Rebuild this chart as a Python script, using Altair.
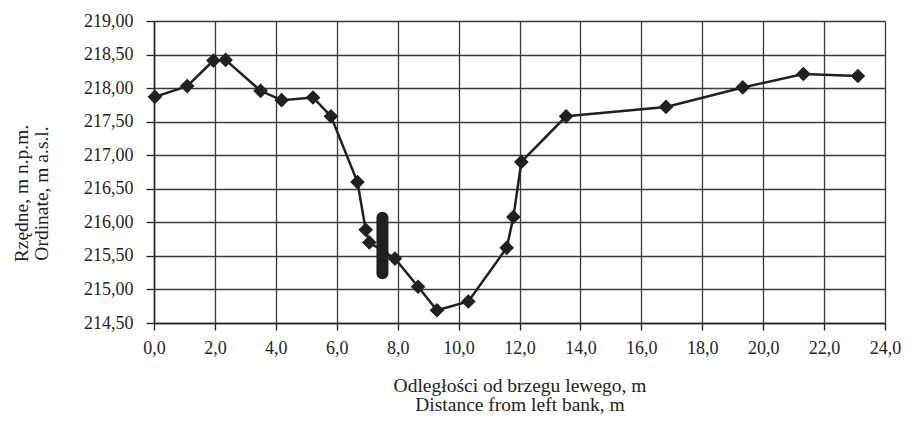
import altair as alt
import pandas as pd

# Cross-section profile (distance from left bank, m ; ordinate, m a.s.l.)
distance = [0.03, 1.09, 1.95, 2.35, 3.50, 4.19, 5.22, 5.81, 6.68, 6.95, 7.07,
            7.91, 8.67, 9.29, 10.32, 11.58, 11.80, 12.06, 13.53, 16.81, 19.33,
            21.32, 23.11]
ordinate = [217.87, 218.03, 218.41, 218.42, 217.96, 217.82, 217.86, 217.58,
            216.60, 215.89, 215.70, 215.46, 215.04, 214.69, 214.82, 215.62,
            216.08, 216.90, 217.58, 217.72, 218.01, 218.21, 218.18]

# Thick vertical bar (gauge) position
bar_x = [7.5]
bar_top = [216.07]
bar_bottom = [215.24]

x_ticks = [0, 2, 4, 6, 8, 10, 12, 14, 16, 18, 20, 22, 24]
y_ticks = [214.5, 215.0, 215.5, 216.0, 216.5, 217.0, 217.5, 218.0, 218.5, 219.0]

df = pd.DataFrame({"x": distance, "y": ordinate})
bar_df = pd.DataFrame({"x": bar_x, "y": bar_top, "y2": bar_bottom})

FONT = "Liberation Serif"
INK = "#231f20"
GRID = "#3a3a3a"

xscale = alt.Scale(domain=[0, 24], nice=False, zero=False)
yscale = alt.Scale(domain=[214.5, 219.0], nice=False, zero=False)

xaxis = alt.Axis(
    values=x_ticks, tickCount=30,
    labelExpr="replace(format(datum.value, '.1f'), '.', ',')",
    title=["Odległości od brzegu lewego, m", "Distance from left bank, m"],
    grid=True, gridColor=GRID, gridWidth=1.3, gridOpacity=1,
    domainColor=INK, domainWidth=1.5,
    tickColor=INK, tickSize=7, tickWidth=1.3,
    labelFont=FONT, labelFontSize=18, labelColor=INK, labelPadding=9,
    labelOverlap=False, labelFlush=False,
    titleFont=FONT, titleFontSize=19.5, titleFontWeight="normal", titleColor=INK,
    titlePadding=19, titleLineHeight=19,
)
yaxis = alt.Axis(
    values=y_ticks, tickCount=30,
    labelExpr="replace(format(datum.value, '.2f'), '.', ',')",
    title=["Rzędne, m n.p.m.", "Ordinate, m a.s.l."],
    grid=True, gridColor=GRID, gridWidth=1.3, gridOpacity=1,
    domainColor=INK, domainWidth=1.5,
    tickColor=INK, tickSize=8, tickWidth=1.3,
    labelFont=FONT, labelFontSize=18, labelColor=INK, labelPadding=13,
    labelOverlap=False, labelFlush=False,
    titleFont=FONT, titleFontSize=19.5, titleFontWeight="normal", titleColor=INK,
    titleLineHeight=20, titleX=-123, titleY=172,
)

base = alt.Chart(df)

line = base.mark_line(color=INK, strokeWidth=2.5).encode(
    x=alt.X("x:Q", scale=xscale, axis=xaxis),
    y=alt.Y("y:Q", scale=yscale, axis=yaxis),
)
points = base.mark_point(shape="diamond", filled=True, size=215, color=INK, opacity=1).encode(
    x=alt.X("x:Q", scale=xscale),
    y=alt.Y("y:Q", scale=yscale),
)
bar = alt.Chart(bar_df).mark_rule(color=INK, strokeWidth=12, strokeCap="round").encode(
    x=alt.X("x:Q", scale=xscale),
    y=alt.Y("y:Q", scale=yscale),
    y2="y2:Q",
)

chart = alt.layer(line, bar, points).properties(
    width=731, height=302,
    autosize=alt.AutoSizeParams(type="none"),
    padding={"left": 146, "top": 13, "right": 16, "bottom": 94},
).configure_view(stroke=GRID, strokeWidth=1.3).configure(background="white")

chart.save("out.html", embed_options={"renderer": "svg", "actions": False})
